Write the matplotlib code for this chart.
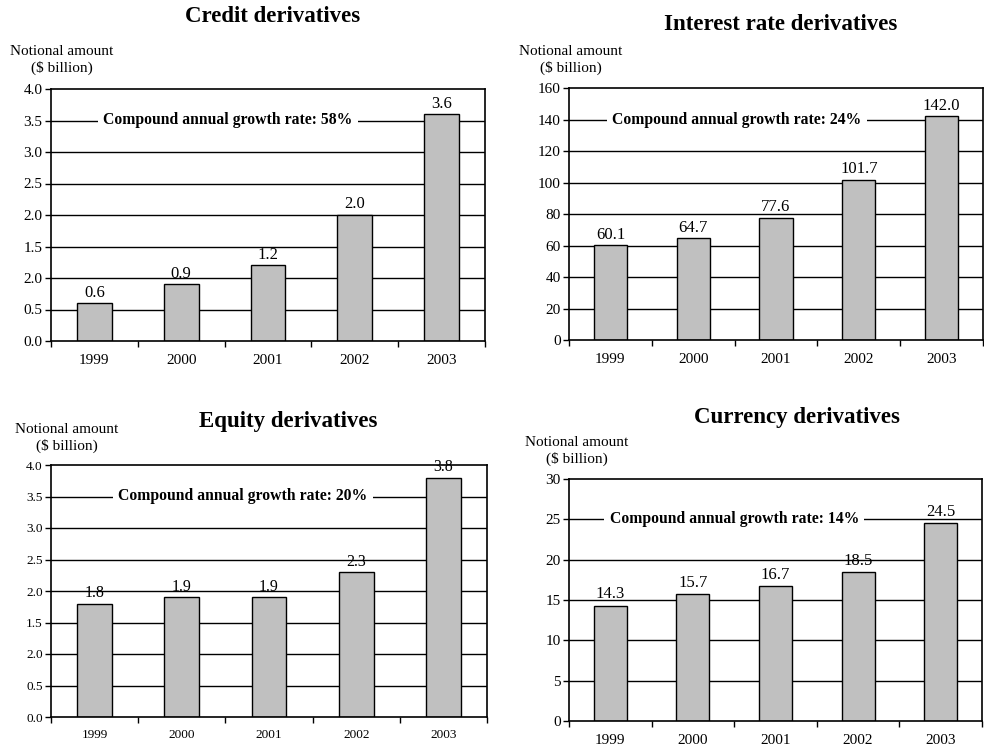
import matplotlib
matplotlib.use("Agg")
import matplotlib.pyplot as plt

plt.rcParams['font.family'] = ['Liberation Serif', 'DejaVu Serif']

years = ['1999', '2000', '2001', '2002', '2003']

credit = [0.6, 0.9, 1.2, 2.0, 3.6]
interest = [60.1, 64.7, 77.6, 101.7, 142.0]
equity = [1.8, 1.9, 1.9, 2.3, 3.8]
currency = [14.3, 15.7, 16.7, 18.5, 24.5]

credit_ticks = [0.0, 0.5, 1.0, 1.5, 2.0, 2.5, 3.0, 3.5, 4.0]
credit_ticklabels = ['0.0', '0.5', '2.0', '1.5', '2.0', '2.5', '3.0', '3.5', '4.0']
interest_ticks = [0, 20, 40, 60, 80, 100, 120, 140, 160]
equity_ticks = credit_ticks
equity_ticklabels = credit_ticklabels
currency_ticks = [0, 5, 10, 15, 20, 25, 30]

W, H = 984, 746
fig = plt.figure(figsize=(W / 100, H / 100), dpi=100)


def px_axes(l, t, r, b):
    return fig.add_axes([l / W, 1 - b / H, (r - l) / W, (b - t) / H])


def panel(box, title, title_xy, ylab_xy, values, ticks, ticklabels,
          cagr, cagr_y, cagr_x, tick_fs=11, year_fs=11, label_fs=12):
    ax = px_axes(*box)
    x = list(range(len(years)))
    ax.set_ylim(ticks[0], ticks[-1])
    ax.set_xlim(-0.5, len(years) - 0.5)
    for t in ticks[1:-1]:
        ax.axhline(t, color='black', lw=1.0, zorder=1)
    ax.bar(x, values, width=0.4, color='#c0c0c0', edgecolor='black',
           linewidth=1.0, zorder=2)
    step = ticks[-1] - ticks[-2]
    for xi, v in zip(x, values):
        lab = f"{v:.1f}"
        ax.text(xi, v + step * 0.08, lab, ha='center', va='bottom',
                fontsize=label_fs, zorder=3)
    ax.set_yticks(ticks)
    ax.set_yticklabels(ticklabels, fontsize=tick_fs)
    ax.set_xticks(x)
    ax.set_xticklabels(years, fontsize=year_fs)
    ax.set_xticks([i - 0.5 for i in range(len(years) + 1)], minor=True)
    ax.tick_params(axis='x', which='major', length=0, pad=9)
    ax.tick_params(axis='x', which='minor', length=4, width=1, direction='out')
    ax.tick_params(axis='y', length=4, width=1, direction='out', pad=2)
    for s in ax.spines.values():
        s.set_linewidth(1.2)
        s.set_color('black')
    ax.text(cagr_x, cagr_y, f"Compound annual growth rate: {cagr}",
            transform=ax.get_yaxis_transform(), ha='center', va='center',
            fontsize=11.3, fontweight='bold', zorder=4,
            bbox=dict(facecolor='white', edgecolor='none', pad=4))
    fig.text(title_xy[0] / W, 1 - title_xy[1] / H, title, ha='center',
             va='center', fontsize=16.5, fontweight='bold')
    fig.text(ylab_xy[0] / W, 1 - ylab_xy[1] / H, "Notional amount\n($ billion)",
             ha='center', va='center', fontsize=11, multialignment='center',
             linespacing=1.25)
    return ax


panel((51, 89, 485, 341), "Credit derivatives", (273, 17), (62, 60),
      credit, credit_ticks, credit_ticklabels, "58%", 3.5, 0.408)
panel((569, 88, 983, 340), "Interest rate derivatives", (781, 25), (571, 60),
      interest, interest_ticks, [str(t) for t in interest_ticks], "24%", 140, 0.405)
panel((51, 465, 487, 717), "Equity derivatives", (288, 421), (67, 438),
      equity, equity_ticks, equity_ticklabels, "20%", 3.5, 0.44,
      tick_fs=9.5, year_fs=9.5, label_fs=11.5)
panel((569, 479, 982, 721), "Currency derivatives", (797, 417), (577, 451),
      currency, currency_ticks, [str(t) for t in currency_ticks], "14%", 25, 0.40)

fig.savefig("out.png", dpi=100, facecolor='white')
